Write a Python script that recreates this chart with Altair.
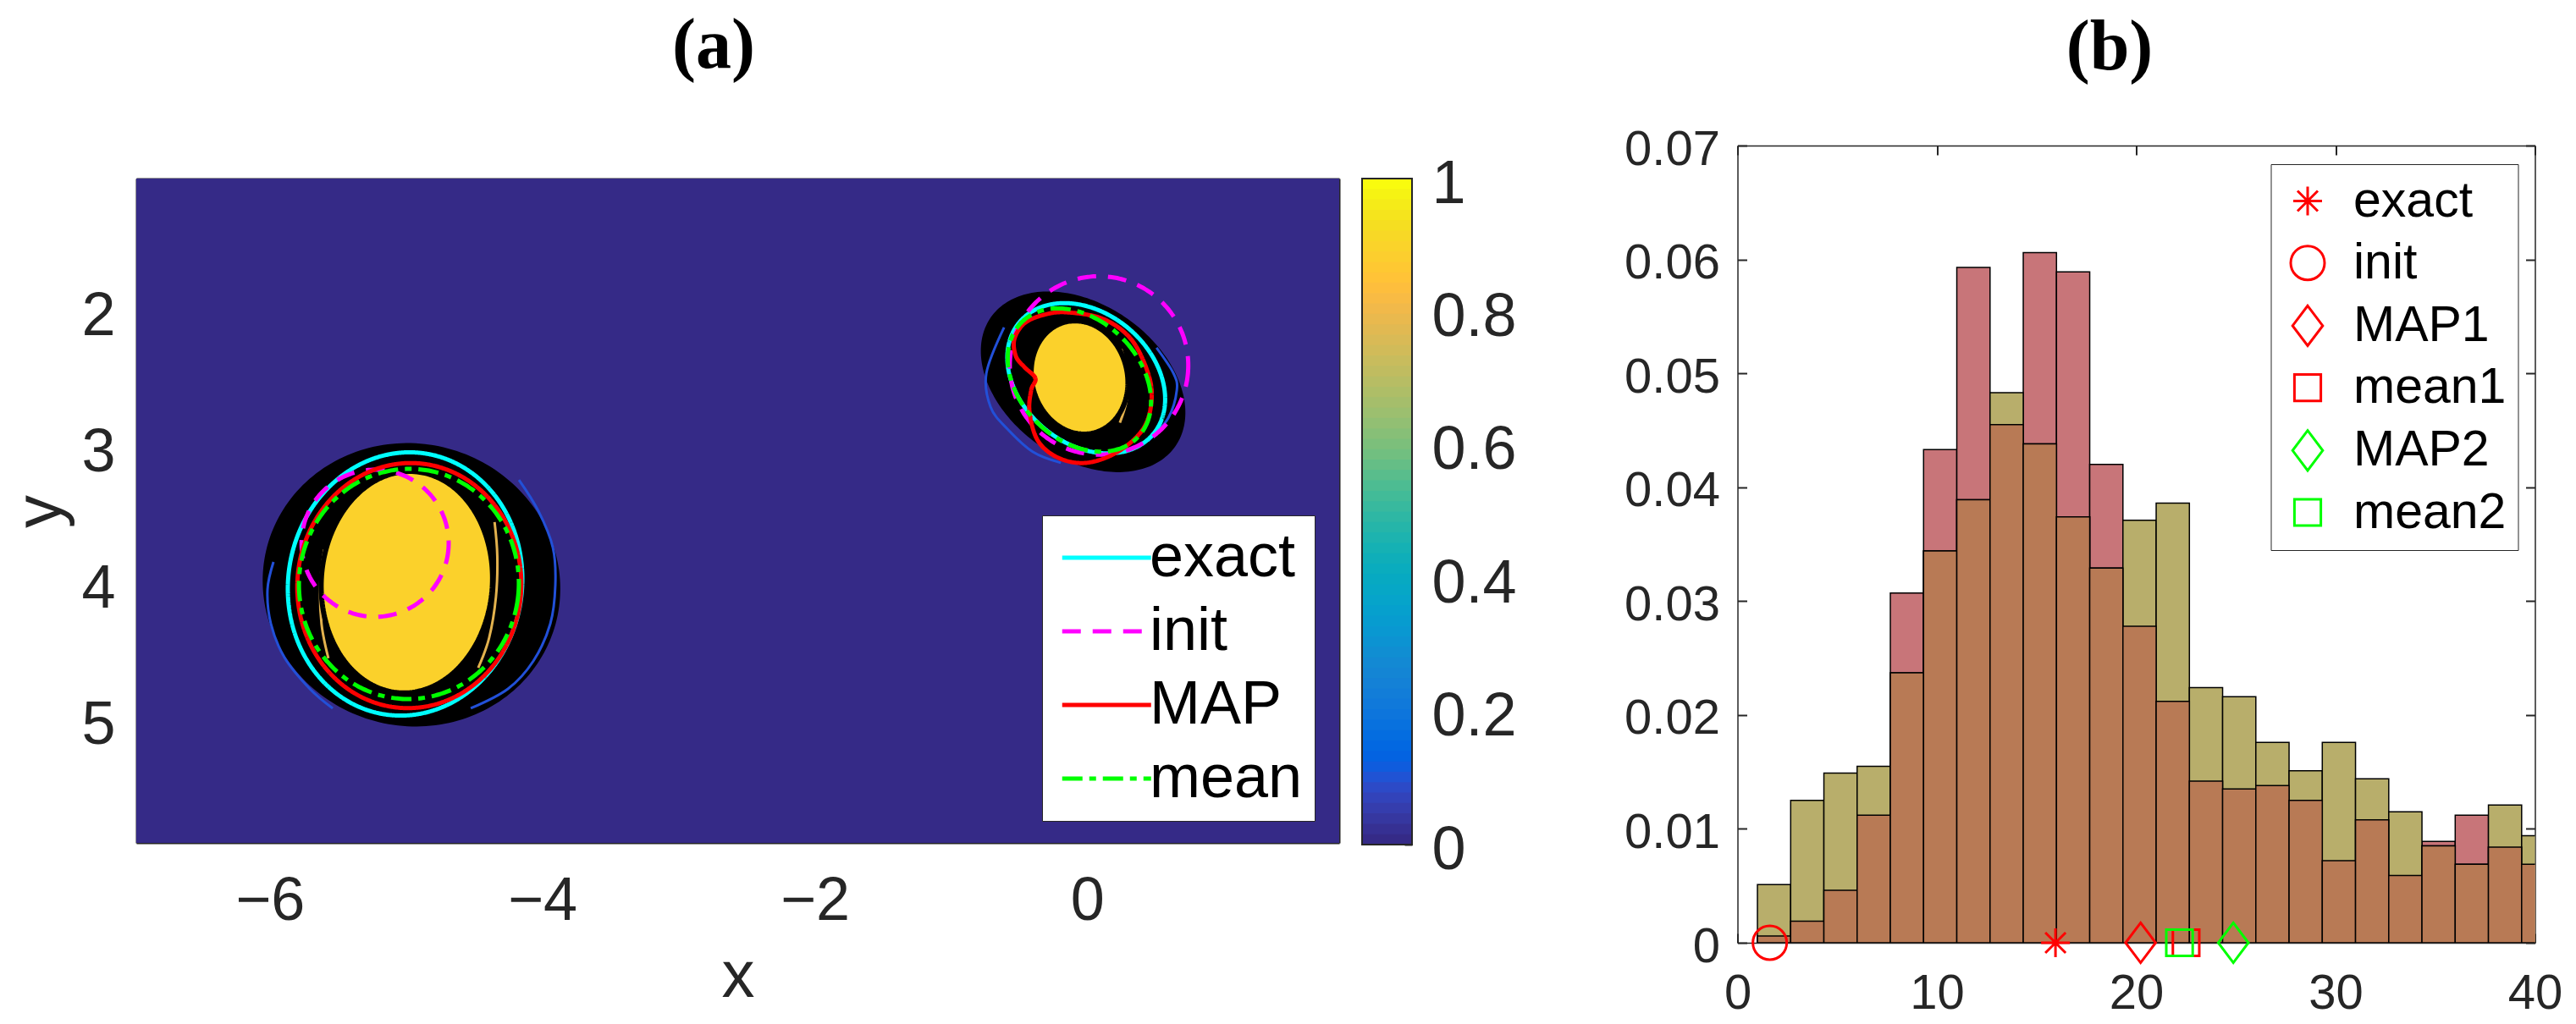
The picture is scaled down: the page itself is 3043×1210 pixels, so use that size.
import numpy as np
import pandas as pd
import altair as alt

FONT = "Liberation Sans"
SERIF = "Liberation Serif"
INK = "#262626"

# ---------------- colormap (parula, 64 levels) ----------------
PARULA_RGB = [
    (0.2081, 0.1663, 0.5292), (0.2116, 0.1898, 0.5777), (0.2123, 0.2138, 0.6270), (0.2081, 0.2386, 0.6771),
    (0.1959, 0.2645, 0.7279), (0.1707, 0.2919, 0.7792), (0.1253, 0.3242, 0.8303), (0.0591, 0.3598, 0.8683),
    (0.0117, 0.3875, 0.8820), (0.0060, 0.4086, 0.8828), (0.0165, 0.4266, 0.8786), (0.0329, 0.4430, 0.8720),
    (0.0498, 0.4586, 0.8641), (0.0629, 0.4737, 0.8554), (0.0723, 0.4887, 0.8467), (0.0779, 0.5040, 0.8384),
    (0.0793, 0.5200, 0.8312), (0.0749, 0.5375, 0.8263), (0.0641, 0.5570, 0.8240), (0.0488, 0.5772, 0.8228),
    (0.0343, 0.5966, 0.8199), (0.0265, 0.6137, 0.8135), (0.0239, 0.6287, 0.8038), (0.0231, 0.6418, 0.7913),
    (0.0228, 0.6535, 0.7768), (0.0267, 0.6642, 0.7607), (0.0384, 0.6743, 0.7436), (0.0590, 0.6838, 0.7254),
    (0.0843, 0.6928, 0.7062), (0.1133, 0.7015, 0.6859), (0.1453, 0.7098, 0.6646), (0.1801, 0.7177, 0.6424),
    (0.2178, 0.7250, 0.6193), (0.2586, 0.7317, 0.5954), (0.3022, 0.7376, 0.5712), (0.3482, 0.7424, 0.5473),
    (0.3953, 0.7459, 0.5244), (0.4420, 0.7481, 0.5033), (0.4871, 0.7491, 0.4840), (0.5300, 0.7491, 0.4661),
    (0.5709, 0.7485, 0.4494), (0.6099, 0.7473, 0.4337), (0.6473, 0.7456, 0.4188), (0.6834, 0.7435, 0.4044),
    (0.7184, 0.7411, 0.3905), (0.7525, 0.7384, 0.3768), (0.7858, 0.7356, 0.3633), (0.8185, 0.7327, 0.3498),
    (0.8507, 0.7299, 0.3360), (0.8824, 0.7274, 0.3217), (0.9139, 0.7258, 0.3063), (0.9450, 0.7261, 0.2886),
    (0.9739, 0.7314, 0.2666), (0.9938, 0.7455, 0.2403), (0.9990, 0.7653, 0.2164), (0.9955, 0.7861, 0.1967),
    (0.9880, 0.8066, 0.1794), (0.9789, 0.8271, 0.1633), (0.9697, 0.8481, 0.1475), (0.9626, 0.8705, 0.1309),
    (0.9589, 0.8949, 0.1132), (0.9598, 0.9218, 0.0948), (0.9661, 0.9514, 0.0755), (0.9763, 0.9831, 0.0538),
]
PARULA = ["#%02x%02x%02x" % tuple(int(round(c * 255)) for c in rgb) for rgb in PARULA_RGB]
N_LEVELS = len(PARULA)

# ---------------- panel (a) values ----------------
IMG_X = [-6.98, 1.85]
IMG_Y = [1.028, 5.905]
IMG_BACKGROUND = 0.0
IMG_INCLUSION = 0.9

# outer envelope of the sample contours (black band)
BAND_CX = [-4.96, -0.03]
BAND_CY = [4.01, 2.52]
BAND_A = [1.09, 0.56]
BAND_B = [1.03, 0.82]
BAND_ROT = [15, -55]

# inclusions (image value ~0.9)
CORE_CX = [-4.994, -0.056]
CORE_CY = [3.991, 2.488]
CORE_A = [0.628, 0.35]
CORE_B = [0.814, 0.42]
CORE_ROT = [4, -15]

# thin blue contour arcs inside the black band
BLUE_ARC_X = [
    [-5.973, -6.017, -5.992, -5.892, -5.706, -5.538],
    [-4.171, -4.028, -3.922, -3.904, -3.941, -4.065, -4.252, -4.525],
    [-0.610, -0.740, -0.709, -0.585, -0.398, -0.193],
    [0.509, 0.633, 0.658, 0.595, 0.447],
]
BLUE_ARC_Y = [
    [3.842, 4.047, 4.296, 4.544, 4.774, 4.917],
    [3.240, 3.469, 3.737, 4.010, 4.296, 4.569, 4.774, 4.917],
    [2.121, 2.457, 2.705, 2.867, 3.035, 3.115],
    [2.270, 2.457, 2.581, 2.786, 2.954],
]

# thin orange contour arcs right next to the inclusions
TAN_ARC_X = [
    [-4.35, -4.33, -4.34, -4.39, -4.47],
    [-5.60, -5.63, -5.62, -5.57],
    [0.25, 0.29, 0.29, 0.24],
]
TAN_ARC_Y = [
    [3.55, 3.80, 4.10, 4.40, 4.62],
    [3.75, 4.00, 4.30, 4.55],
    [2.28, 2.45, 2.65, 2.82],
]

# estimated boundaries (exact / init / MAP / mean)
CURVE_NAMES = ["exact", "init", "MAP", "mean"]
CURVE_COLORS = ["#00ffff", "#ff00ff", "#ff0000", "#00ff00"]
CURVE_DASH = [[1, 0], [22, 14], [1, 0], [24, 8, 8, 8]]

CURVE_NAME = ["exact", "exact", "init", "init", "MAP", "mean", "mean"]
CURVE_CX = [-5.007, -0.007, -5.227, 0.087, -4.976, -4.979, -0.057]
CURVE_CY = [4.004, 2.494, 3.705, 2.400, 4.016, 4.004, 2.507]
CURVE_A = [0.858, 0.48, 0.54, 0.655, 0.822, 0.807, 0.44]
CURVE_B = [0.969, 0.64, 0.54, 0.655, 0.900, 0.845, 0.60]
CURVE_ROT = [9, -50, 0, 0, 4, 4, -45]

MAP_SMALL_X = [-0.150, 0.118, 0.323, 0.447, 0.472, 0.410, 0.223, -0.007, -0.212, -0.361,
               -0.423, -0.411, -0.380, -0.460, -0.523, -0.535, -0.460, -0.317]
MAP_SMALL_Y = [2.010, 2.059, 2.208, 2.457, 2.662, 2.867, 3.035, 3.115, 3.078, 2.954,
               2.743, 2.581, 2.494, 2.413, 2.333, 2.208, 2.090, 2.028]

X_TICKS_A = [-6, -4, -2, 0]
Y_TICKS_A = [2, 3, 4, 5]
CB_TICKS = [0, 0.2, 0.4, 0.6, 0.8, 1]

# ---------------- panel (b) values ----------------
BIN_EDGES = [1.0, 2.667, 4.333, 6.0, 7.667, 9.333, 11.0, 12.667, 14.333, 16.0, 17.667, 19.333,
             21.0, 22.667, 24.333, 26.0, 27.667, 29.333, 31.0, 32.667, 34.333, 36.0, 37.667, 39.333, 41.0]
DENS_1 = [0.0006, 0.0019, 0.0046, 0.0112, 0.0307, 0.0433, 0.0593, 0.0455, 0.0606, 0.0589, 0.0420, 0.0278,
          0.0212, 0.0142, 0.0135, 0.0138, 0.0125, 0.0072, 0.0108, 0.0059, 0.0089, 0.0112, 0.0084, 0.0069]
DENS_2 = [0.0051, 0.0125, 0.0149, 0.0155, 0.0237, 0.0344, 0.0389, 0.0483, 0.0438, 0.0374, 0.0329, 0.0371,
          0.0386, 0.0224, 0.0216, 0.0176, 0.0151, 0.0176, 0.0144, 0.0115, 0.0085, 0.0069, 0.0121, 0.0094]
PINK, OLIVE, BROWN = "#c87579", "#b8ae6b", "#b87a55"

MARK_NAME = ["exact", "init", "MAP1", "mean1", "MAP2", "mean2"]
MARK_X = [15.95, 1.62, 20.22, 22.5, 24.87, 22.17]
MARK_COLOR = ["#ff0000", "#ff0000", "#ff0000", "#ff0000", "#00ff00", "#00ff00"]
ASTERISK = "M-0.85,0L0.85,0M0,-0.85L0,0.85M-0.6,-0.6L0.6,0.6M-0.6,0.6L0.6,-0.6"
DIAMOND = "M0,-1.18L0.89,0L0,1.18L-0.89,0Z"
SQUARE = "M-0.78,-0.78L0.78,-0.78L0.78,0.78L-0.78,0.78Z"
MARK_SHAPE = [ASTERISK, "circle", DIAMOND, SQUARE, DIAMOND, SQUARE]
X_TICKS_B = [0, 10, 20, 30, 40]
Y_TICKS_B = [0, 0.01, 0.02, 0.03, 0.04, 0.05, 0.06, 0.07]


# ---------------- helpers ----------------
def ellipse(cx, cy, a, b, rot, n=200):
    t = np.linspace(0, 2 * np.pi, n, endpoint=False)
    r = np.deg2rad(rot)
    ex, ey = a * np.cos(t), b * np.sin(t)
    return cx + ex * np.cos(r) - ey * np.sin(r), cy + ex * np.sin(r) + ey * np.cos(r)


def rows(piece, xs, ys, **extra):
    return [dict(piece=piece, i=k, x=float(x), y=float(y), **extra) for k, (x, y) in enumerate(zip(xs, ys))]


def inward(n):
    return {"expr": str(-n)}


# ---------------- tables ----------------
img_df = pd.DataFrame({"x0": [IMG_X[0]], "x1": [IMG_X[1]], "y0": [IMG_Y[0]], "y1": [IMG_Y[1]], "v": [IMG_BACKGROUND]})

band_rows, core_rows = [], []
for k in range(2):
    band_rows += rows(f"b{k}", *ellipse(BAND_CX[k], BAND_CY[k], BAND_A[k], BAND_B[k], BAND_ROT[k]))
    core_rows += rows(f"c{k}", *ellipse(CORE_CX[k], CORE_CY[k], CORE_A[k], CORE_B[k], CORE_ROT[k]), v=IMG_INCLUSION)
band_df, core_df = pd.DataFrame(band_rows), pd.DataFrame(core_rows)

blue_rows = []
for k, (xs, ys) in enumerate(zip(BLUE_ARC_X, BLUE_ARC_Y)):
    blue_rows += rows(f"a{k}", xs, ys)
blue_df = pd.DataFrame(blue_rows)

tan_rows = []
for k, (xs, ys) in enumerate(zip(TAN_ARC_X, TAN_ARC_Y)):
    tan_rows += rows(f"t{k}", xs, ys)
tan_df = pd.DataFrame(tan_rows)

curve_rows = []
for k in range(len(CURVE_NAME)):
    curve_rows += rows(f"e{k}", *ellipse(CURVE_CX[k], CURVE_CY[k], CURVE_A[k], CURVE_B[k], CURVE_ROT[k]),
                       name=CURVE_NAME[k])
curve_rows += rows("map_small", MAP_SMALL_X, MAP_SMALL_Y, name="MAP")
curve_df = pd.DataFrame(curve_rows)

cb_df = pd.DataFrame({"lo": [k / N_LEVELS for k in range(N_LEVELS)],
                      "v": [k / (N_LEVELS - 1) for k in range(N_LEVELS)]})
cb_box = pd.DataFrame({"lo": [0.0], "hi": [1.0]})

hist_df = pd.DataFrame({"lo": BIN_EDGES[:-1], "hi": BIN_EDGES[1:], "d1": DENS_1, "d2": DENS_2})
mark_df = pd.DataFrame({"name": MARK_NAME, "x": MARK_X, "y": [0.0] * len(MARK_NAME)})

# ---------------- scales ----------------
XA = alt.Scale(domain=IMG_X, nice=False, zero=False)
YA = alt.Scale(domain=IMG_Y, nice=False, zero=False, reverse=True)
FILL = alt.Scale(domain=[k / (N_LEVELS - 1) for k in range(N_LEVELS)], range=PARULA)
CBS = alt.Scale(domain=[0, 1], range=[787, 0], nice=False, zero=False)
STROKE = alt.Scale(domain=CURVE_NAMES, range=CURVE_COLORS)
DASH = alt.Scale(domain=CURVE_NAMES, range=CURVE_DASH)
XB = alt.Scale(domain=[0, 40], nice=False, zero=False)
YB = alt.Scale(domain=[0, 0.07], range=[903, -39], nice=False, zero=False)

common_axis = dict(grid=False, labelFont=FONT, labelColor=INK, labelFlush=False, labelOverlap=False,
                   tickColor=INK, tickWidth=2, domainColor=INK)

AX_A_BOTTOM = alt.Axis(orient="bottom", values=X_TICKS_A, title="x", labelFontSize=72, labelPadding=48,
                       tickSize=inward(15), domainWidth=2, titleFont=FONT, titleFontSize=78,
                       titleFontWeight="normal", titleColor=INK, titleBaseline="alphabetic", titleY=181,
                       **common_axis)
AX_A_LEFT = alt.Axis(orient="left", values=Y_TICKS_A, title="y", labelFontSize=72, labelPadding=40,
                     labelOffset=6, tickSize=inward(15), domainWidth=2, titleFont=FONT, titleFontSize=78,
                     titleFontWeight="normal", titleColor=INK, titleBaseline="alphabetic", titleAlign="center",
                     titleX=-90, titleY=393, **common_axis)
AX_A_TOP = alt.Axis(orient="top", values=X_TICKS_A, title=None, labels=False, tickSize=inward(15),
                    domainWidth=2, **common_axis)
AX_A_RIGHT = alt.Axis(orient="right", values=Y_TICKS_A, title=None, labels=False, tickSize=inward(15),
                      domainWidth=2, **common_axis)
AX_CB = alt.Axis(orient="right", offset=86, values=CB_TICKS, format="~g", title=None, labelFontSize=72,
                 labelPadding=32, labelOffset=6, tickSize=inward(9), domain=False, **common_axis)

AX_B_BOTTOM = alt.Axis(orient="bottom", values=X_TICKS_B, title=None, labelFontSize=58, labelPadding=42,
                       tickSize=inward(11), domainWidth=1.5, **common_axis)
AX_B_LEFT = alt.Axis(orient="left", values=Y_TICKS_B, format="~g", title=None, labelFontSize=58,
                     labelPadding=32, labelOffset=5, tickSize=inward(11), domainWidth=1.5, **common_axis)
AX_B_TOP = alt.Axis(orient="top", offset=39, values=X_TICKS_B, title=None, labels=False,
                    tickSize=inward(11), domainWidth=1.5, **common_axis)
AX_B_RIGHT = alt.Axis(orient="right", values=Y_TICKS_B, title=None, labels=False, tickSize=inward(11),
                      domainWidth=1.5, **common_axis)

LEG_A = alt.Legend(title=None, orient="none", legendX=1070, legendY=398, symbolType="M-1,0L3,0",
                   symbolSize=2756, symbolStrokeWidth=5, labelFont=FONT, labelFontSize=72, labelColor="black",
                   labelLimit=600, labelOffset=41, rowPadding=15, padding=14, fillColor="white",
                   strokeColor=INK)
LEG_B = alt.Legend(title=None, orient="none", legendX=630, legendY=-17, symbolSize=1600,
                   symbolStrokeWidth=3, labelFont=FONT, labelFontSize=59, labelColor="black",
                   labelLimit=600, labelOffset=24.5, rowPadding=13.2, padding=14, fillColor="white",
                   strokeColor=INK)

# ---------------- panel (a) ----------------
xa = alt.X("x:Q", scale=XA, axis=None)
ya = alt.Y("y:Q", scale=YA, axis=None)

img = alt.Chart(img_df).mark_rect().encode(
    x=alt.X("x0:Q", scale=XA, axis=AX_A_BOTTOM), x2="x1:Q",
    y=alt.Y("y0:Q", scale=YA, axis=AX_A_LEFT), y2="y1:Q",
    fill=alt.Fill("v:Q", scale=FILL, legend=None))

bands = alt.Chart(band_df).mark_line(fill="black", stroke="black", strokeWidth=2,
                                     interpolate="linear-closed").encode(
    x=xa, y=ya, detail="piece:N", order="i:Q")

blues = alt.Chart(blue_df).mark_line(stroke="#2250d8", strokeWidth=3, interpolate="cardinal").encode(
    x=xa, y=ya, detail="piece:N", order="i:Q")

tans = alt.Chart(tan_df).mark_line(stroke="#e3b24e", strokeWidth=3, interpolate="cardinal").encode(
    x=xa, y=ya, detail="piece:N", order="i:Q")

cores = alt.Chart(core_df).mark_line(stroke="black", strokeWidth=6, interpolate="linear-closed").encode(
    x=xa, y=ya, detail="piece:N", order="i:Q", fill=alt.Fill("v:Q", scale=FILL, legend=None))

curve_layers = []
for j, nm in enumerate(CURVE_NAMES):
    sub = curve_df[curve_df["name"] == nm]
    enc_x = alt.X("x:Q", scale=XA, axis=AX_A_TOP) if j == 0 else xa
    enc_y = alt.Y("y:Q", scale=YA, axis=AX_A_RIGHT) if j == 0 else ya
    curve_layers.append(
        alt.Chart(sub).mark_line(strokeWidth=5, interpolate="cardinal-closed").encode(
            x=enc_x, y=enc_y,
            stroke=alt.Stroke("name:N", scale=STROKE, legend=LEG_A),
            strokeDash=alt.StrokeDash("name:N", scale=DASH, legend=LEG_A),
            detail="piece:N", order="i:Q"))

inner_a = alt.layer(img, bands, blues, tans, cores, *curve_layers).resolve_axis(x="independent", y="independent")

cbar = alt.Chart(cb_df).mark_rect().encode(
    x=alt.value(1448), x2=alt.value(1507),
    y=alt.Y("lo:Q", scale=CBS, axis=AX_CB), y2=alt.datum(1),
    fill=alt.Fill("v:Q", scale=FILL, legend=None))
cbar_box = alt.Chart(cb_box).mark_rect(fillOpacity=0, stroke=INK, strokeWidth=2).encode(
    x=alt.value(1448), x2=alt.value(1507),
    y=alt.Y("lo:Q", scale=CBS, axis=None), y2="hi:Q")

panel_a = alt.layer(inner_a, cbar, cbar_box).resolve_scale(y="independent").properties(
    width=1421, height=785,
    title=alt.TitleParams("(a)", font=SERIF, fontSize=84, fontWeight="bold", color="black",
                          anchor="middle", frame="group", dx=-28.5, offset=83))

# ---------------- panel (b) ----------------
bar1 = alt.Chart(hist_df).mark_rect(fill=PINK, stroke="black", strokeWidth=1.5, clip=True).encode(
    x=alt.X("lo:Q", scale=XB, axis=AX_B_BOTTOM), x2="hi:Q",
    y=alt.Y("d1:Q", scale=YB, axis=AX_B_LEFT), y2=alt.datum(0))
bar2 = alt.Chart(hist_df).mark_rect(fill=OLIVE, stroke="black", strokeWidth=1.5, clip=True).encode(
    x=alt.X("lo:Q", scale=XB, axis=AX_B_TOP), x2="hi:Q",
    y=alt.Y("d2:Q", scale=YB, axis=AX_B_RIGHT), y2=alt.datum(0))
bar3 = alt.Chart(hist_df).transform_calculate(m="min(datum.d1, datum.d2)").mark_rect(
    fill=BROWN, stroke="black", strokeWidth=1.5, clip=True).encode(
    x=alt.X("lo:Q", scale=XB, axis=None), x2="hi:Q",
    y=alt.Y("m:Q", scale=YB, axis=None), y2=alt.datum(0))
pts = alt.Chart(mark_df).mark_point(filled=False, strokeWidth=3, size=1600, opacity=1).encode(
    x=alt.X("x:Q", scale=XB, axis=None), y=alt.Y("y:Q", scale=YB, axis=None),
    color=alt.Color("name:N", scale=alt.Scale(domain=MARK_NAME, range=MARK_COLOR), legend=LEG_B),
    shape=alt.Shape("name:N", scale=alt.Scale(domain=MARK_NAME, range=MARK_SHAPE), legend=LEG_B))

panel_b = alt.layer(bar1, bar2, bar3, pts).resolve_axis(x="independent", y="independent").properties(
    width=942, height=903,
    title=alt.TitleParams("(b)", font=SERIF, fontSize=84, fontWeight="bold", color="black",
                          anchor="middle", frame="group", dx=-31.5, offset=48))

chart = alt.hconcat(panel_a, panel_b, spacing=470.5, bounds="flush").resolve_scale(
    color="independent", shape="independent", stroke="independent", strokeDash="independent",
    fill="independent").configure_view(strokeWidth=0).properties(
    padding={"left": 9, "top": 13, "right": 10, "bottom": 10})

chart.save("out.html", embed_options={"renderer": "svg", "actions": False})
